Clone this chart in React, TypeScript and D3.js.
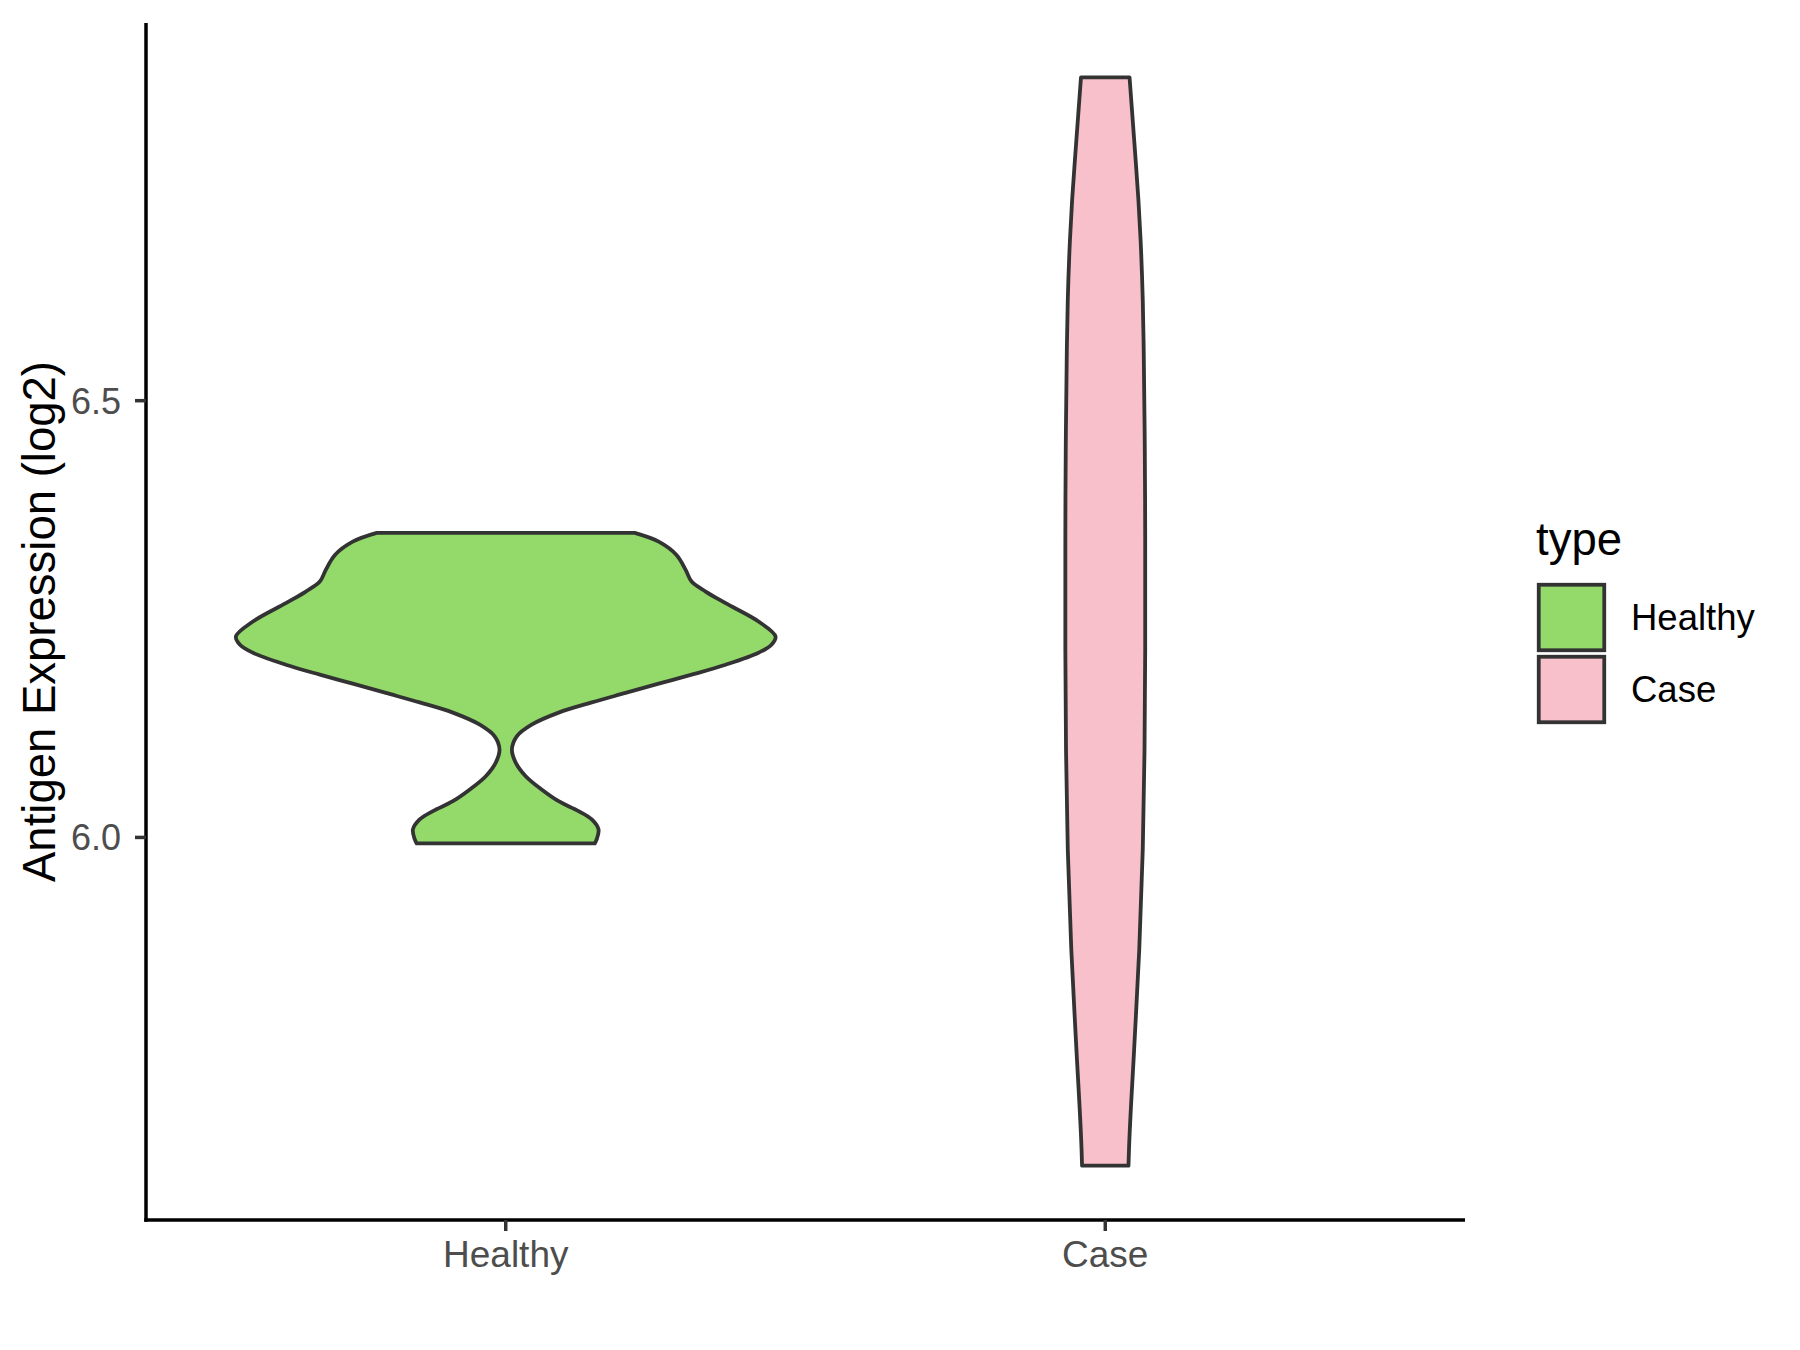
import React from "react";
import * as d3 from "d3";

const categories = ["Healthy", "Case"];
const fills = ["#93DA6A", "#F8C0CB"];
const yTicks = [6.0, 6.5];

// Violin outline: value and relative half-width (Healthy max = 1)
const healthyValues = [5.9931, 5.9977, 6.0091, 6.0206, 6.0301, 6.0415, 6.0549, 6.0701, 6.0857, 6.1006, 6.1158, 6.1291, 6.1429, 6.1546, 6.1654, 6.176, 6.1863, 6.1977, 6.2114, 6.2206, 6.2301, 6.2472, 6.2682, 6.2815, 6.2929, 6.3063, 6.3234, 6.3386, 6.3486];
const healthyDensity = [0.33, 0.337, 0.344, 0.319, 0.27, 0.196, 0.133, 0.074, 0.037, 0.023, 0.041, 0.096, 0.196, 0.319, 0.444, 0.567, 0.689, 0.815, 0.937, 0.985, 1.0, 0.937, 0.815, 0.741, 0.689, 0.667, 0.633, 0.567, 0.478];

const caseValues = [5.6243, 5.6434, 5.7577, 5.872, 5.9863, 6.1006, 6.2149, 6.3292, 6.4435, 6.5578, 6.6149, 6.6834, 6.7291, 6.7863, 6.8701];
const caseDensity = [0.086, 0.088, 0.107, 0.126, 0.139, 0.1455, 0.148, 0.148, 0.1465, 0.1425, 0.139, 0.131, 0.123, 0.11, 0.09];

const FONT = "'Liberation Sans', Arial, Helvetica, sans-serif";

export default function App() {
  const W = 1800, H = 1350;
  const left = 146, right = 1465, top = 23, bottom = 1220;

  const allVals = [...healthyValues, ...caseValues];
  const mn = d3.min(allVals)!, mx = d3.max(allVals)!;
  const pad = (mx - mn) * 0.05;
  const y = d3.scaleLinear().domain([mn - pad, mx + pad]).range([bottom, top]);
  const x = d3.scaleLinear().domain([0.4, 2.6]).range([left, right]);
  const unit = x(1) - x(0);
  const halfMax = 0.45 * unit;

  const series = [
    { values: healthyValues, dens: healthyDensity, curve: d3.curveCatmullRom.alpha(0.5) },
    { values: caseValues, dens: caseDensity, curve: d3.curveMonotoneY },
  ];

  const paths = series.map((s, i) => {
    const cx = x(i + 1);
    const pts = s.values.map((v, k) => ({ v, d: s.dens[k] }));
    const area = d3
      .area<{ v: number; d: number }>()
      .y((p) => y(p.v))
      .x0((p) => cx - p.d * halfMax)
      .x1((p) => cx + p.d * halfMax)
      .curve(s.curve as any);
    return area(pts) || "";
  });

  return (
    <svg width={W} height={H} style={{ position: "absolute", left: 0, top: 0, background: "#fff" }} fontFamily={FONT}>
      <rect x={0} y={0} width={W} height={H} fill="#fff" />
      {paths.map((d, i) => (
        <path key={i} d={d} fill={fills[i]} stroke="#333333" strokeWidth={3.8} strokeLinejoin="round" />
      ))}
      {/* axes */}
      <line x1={left} y1={top} x2={left} y2={bottom + 1.75} stroke="#000" strokeWidth={3.5} />
      <line x1={left - 1.75} y1={bottom} x2={right} y2={bottom} stroke="#000" strokeWidth={3.5} />
      {yTicks.map((t) => (
        <g key={t}>
          <line x1={left - 11} x2={left} y1={y(t)} y2={y(t)} stroke="#333333" strokeWidth={3.5} />
          <text x={left - 25} y={y(t)} dy="0.36em" textAnchor="end" fontSize={36} fill="#4D4D4D">
            {t.toFixed(1)}
          </text>
        </g>
      ))}
      {categories.map((c, i) => (
        <g key={c}>
          <line x1={x(i + 1)} x2={x(i + 1)} y1={bottom} y2={bottom + 11} stroke="#333333" strokeWidth={3.5} />
          <text x={x(i + 1)} y={1267} textAnchor="middle" fontSize={37} fill="#4D4D4D">
            {c}
          </text>
        </g>
      ))}
      <text transform={`translate(55, ${(top + bottom) / 2}) rotate(-90)`} textAnchor="middle" fontSize={45.5} fill="#000">
        Antigen Expression (log2)
      </text>
      {/* legend */}
      <text x={1536} y={555} fontSize={45.5} fill="#000">type</text>
      {categories.map((c, i) => (
        <g key={c}>
          <rect x={1538.75} y={584.75 + i * 72} width={65.5} height={65.5} fill={fills[i]} stroke="#333333" strokeWidth={3.8} />
          <text x={1631} y={630 + i * 72} fontSize={36.5} fill="#000">
            {c}
          </text>
        </g>
      ))}
    </svg>
  );
}
